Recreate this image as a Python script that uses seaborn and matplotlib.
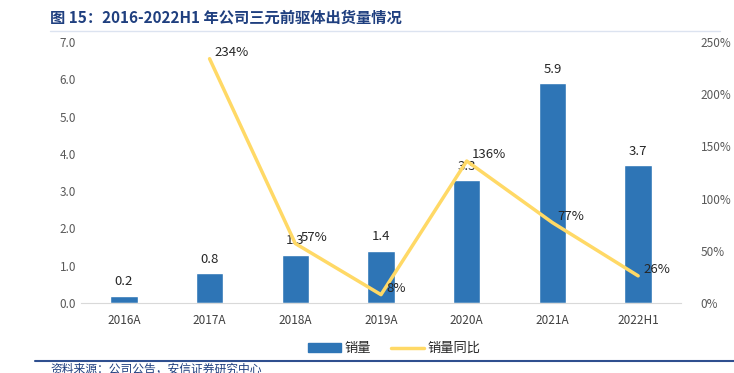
import numpy as np
import pandas as pd
import seaborn as sns
import matplotlib.pyplot as plt
from matplotlib.lines import Line2D
from matplotlib.patches import Patch

# Data
years = ['2016A', '2017A', '2018A', '2019A', '2020A', '2021A', '2022H1']
volume = [0.2, 0.8, 1.3, 1.4, 3.3, 5.9, 3.7]
yoy = [None, 2.34, 0.57, 0.08, 1.36, 0.77, 0.26]
yoy_labels = ['', '234%', '57%', '8%', '136%', '77%', '26%']

sns.set_style('white')
plt.rcParams['font.family'] = ['Noto Sans CJK SC', 'DejaVu Sans']

bar_color = '#2E75B6'
line_color = '#FFD966'
tick_color = '#595959'

df = pd.DataFrame({'year': years, 'volume': volume})
line_df = pd.DataFrame({'pos': np.arange(len(years)), 'yoy': yoy}).dropna()

fig = plt.figure(figsize=(7.34, 3.73), dpi=100)
ax = fig.add_axes([81 / 734, 70 / 373, 600 / 734, 261 / 373])

sns.barplot(data=df, x='year', y='volume', order=years, color=bar_color,
            width=0.32, saturation=1, ax=ax)
ax.set_ylim(0, 7)
ax.set_xlim(-0.5, len(years) - 0.5)
ax.set_yticks(np.arange(0, 7.1, 1))
ax.set_yticklabels([f'{v:.1f}' for v in np.arange(0, 7.1, 1)])
ax.set_xlabel('')
ax.set_ylabel('')
for s in ['top', 'right', 'left']:
    ax.spines[s].set_visible(False)
ax.spines['bottom'].set_color('#D9D9D9')
ax.tick_params(axis='both', length=0, labelsize=8.5, colors=tick_color)
ax.tick_params(axis='x', pad=8, colors='#404040')

for i, v in enumerate(volume):
    ax.text(i, v + 0.2, f'{v:.1f}', ha='center', va='bottom', fontsize=9.5,
            color='#262626')

ax2 = ax.twinx()
sns.lineplot(data=line_df, x='pos', y='yoy', color=line_color, linewidth=2.5,
             ax=ax2)
ax2.set_ylim(0, 2.5)
ax2.set_xlim(-0.5, len(years) - 0.5)
ax2.set_yticks(np.arange(0, 2.51, 0.5))
ax2.set_yticklabels([f'{int(round(v * 100))}%' for v in np.arange(0, 2.51, 0.5)])
ax2.set_xlabel('')
ax2.set_ylabel('')
for s in ['top', 'right', 'left', 'bottom']:
    ax2.spines[s].set_visible(False)
ax2.tick_params(axis='y', length=0, labelsize=8.5, colors=tick_color, pad=14)

for i, (v, lab) in enumerate(zip(yoy, yoy_labels)):
    if v is None:
        continue
    ax2.text(i + 0.06, v + 0.06, lab, ha='left', va='center', fontsize=9.5,
             color='#262626')

# Legend
handles = [Patch(facecolor=bar_color, edgecolor=bar_color),
           Line2D([0], [0], color=line_color, lw=2.5)]
fig.legend(handles, ['销量', '销量同比'], loc='center', bbox_to_anchor=(0.537, 0.065),
           ncol=2, frameon=False, fontsize=9.5, handlelength=2.5,
           handleheight=0.7, columnspacing=1.5, handletextpad=0.3)

# Title and source
fig.text(50 / 734, 1 - 18 / 373, '图 15：2016-2022H1 年公司三元前驱体出货量情况',
         fontsize=11, fontweight='bold', color='#1F3F7F', va='center')
fig.add_artist(Line2D([50 / 734, 720 / 734], [1 - 31 / 373, 1 - 31 / 373],
                      color='#DCE3F0', lw=1))
fig.add_artist(Line2D([35 / 734, 734 / 734], [1 - 361 / 373, 1 - 361 / 373],
                      color='#2F4F8F', lw=1.5))
fig.text(50 / 734, 1 - 369 / 373, '资料来源：公司公告，安信证券研究中心',
         fontsize=8.5, color='#1F3F7F', style='italic', va='center')

fig.savefig('out.png', dpi=100)
